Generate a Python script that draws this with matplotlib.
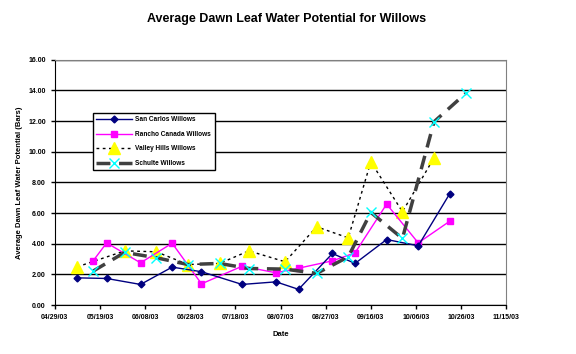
import numpy as np
import pandas as pd
import matplotlib
matplotlib.use('Agg')
from matplotlib import pyplot as plt
import matplotlib.dates as mdates

plt.rcParams['font.family'] = ['Liberation Sans', 'DejaVu Sans']

# San Carlos Willows
sc_dates = ['2003-05-09', '2003-05-22', '2003-06-06', '2003-06-20', '2003-07-03', '2003-07-21',
            '2003-08-05', '2003-08-15', '2003-08-30', '2003-09-09', '2003-09-23', '2003-10-07', '2003-10-21']
sc_vals = [1.78, 1.74, 1.35, 2.48, 2.18, 1.35, 1.52, 1.03, 3.37, 2.72, 4.28, 3.87, 7.28]

# Rancho Canada Willows
rc_dates = ['2003-05-16', '2003-05-22', '2003-06-06', '2003-06-20', '2003-07-03', '2003-07-21',
            '2003-08-05', '2003-08-15', '2003-08-30', '2003-09-09', '2003-09-23', '2003-10-07', '2003-10-21']
rc_vals = [2.89, 4.06, 2.76, 4.04, 1.39, 2.54, 2.11, 2.41, 2.89, 3.41, 6.59, 4.06, 5.48]

# Valley Hills Willows
vh_dates = ['2003-05-09', '2003-05-30', '2003-06-13', '2003-06-27', '2003-07-11', '2003-07-24',
            '2003-08-09', '2003-08-23', '2003-09-06', '2003-09-16', '2003-09-30', '2003-10-14']
vh_vals = [2.50, 3.54, 3.48, 2.65, 2.72, 3.54, 2.83, 5.11, 4.39, 9.35, 6.09, 9.61]

# Schulte Willows
sw_dates = ['2003-05-16', '2003-05-30', '2003-06-13', '2003-06-27', '2003-07-11', '2003-07-24',
            '2003-08-09', '2003-08-23', '2003-09-06', '2003-09-16', '2003-09-30', '2003-10-14', '2003-10-28']
sw_vals = [2.22, 3.44, 3.09, 2.65, 2.72, 2.39, 2.35, 2.07, 3.15, 6.05, 4.35, 11.96, 13.81]

fig = plt.figure(figsize=(5.76, 3.54), dpi=100)
ax = fig.add_axes([0.095, 0.138, 0.784, 0.693])

ax.plot(pd.to_datetime(sc_dates), sc_vals, color='#000080', lw=1, marker='D', ms=3.5,
        label='San Carlos Willows', zorder=5)
ax.plot(pd.to_datetime(rc_dates), rc_vals, color='#ff00ff', lw=1, marker='s', ms=4.5,
        label='Rancho Canada Willows', zorder=4)
ax.plot(pd.to_datetime(vh_dates), vh_vals, color='black', lw=1, ls=(0, (2, 2.5)), marker='^', ms=9,
        mfc='#ffff00', mec='#ffff00', label='Valley Hills Willows', zorder=3)
ax.plot(pd.to_datetime(sw_dates), sw_vals, color='#404040', lw=2.5, ls=(0, (4, 2.5)), marker='x', ms=7,
        mec='#00ffff', mew=1, label='Schulte Willows', zorder=6)

ax.set_ylim(0, 16)
ax.set_yticks(np.arange(0, 17, 2))
ax.yaxis.set_major_formatter(matplotlib.ticker.FormatStrFormatter('%.2f'))
ax.set_xlim(pd.Timestamp('2003-04-29'), pd.Timestamp('2003-11-15'))
ax.set_xticks(pd.date_range('2003-04-29', '2003-11-15', freq='20D'))
ax.xaxis.set_major_formatter(mdates.DateFormatter('%m/%d/%y'))
ax.yaxis.grid(True, color='black', lw=1)
ax.set_axisbelow(True)
for s in ['top', 'right']:
    ax.spines[s].set_color('#808080')
ax.tick_params(labelsize=5, direction='out', length=3, width=1)
for lbl in ax.get_xticklabels() + ax.get_yticklabels():
    lbl.set_fontweight('bold')

ax.set_xlabel('Date', fontsize=5.5, fontweight='bold', labelpad=7)
ax.set_ylabel('Average Dawn Leaf Water Potential (Bars)', fontsize=5.5, fontweight='bold', labelpad=4)
fig.text(0.497, 0.945, 'Average Dawn Leaf Water Potential for Willows', ha='center', va='center',
         fontsize=9, fontweight='bold')

leg = ax.legend(loc='upper left', bbox_to_anchor=(92.7 / 576, 1 - 112.7 / 354),
                bbox_transform=fig.transFigure, prop={'size': 4.7, 'weight': 'bold'},
                frameon=True, fancybox=False, edgecolor='black', framealpha=1,
                borderaxespad=0, handlelength=5.4, handletextpad=0.6, labelspacing=1.15, borderpad=0.55)
leg.get_frame().set_linewidth(1)

fig.savefig('out.png', dpi=100)
